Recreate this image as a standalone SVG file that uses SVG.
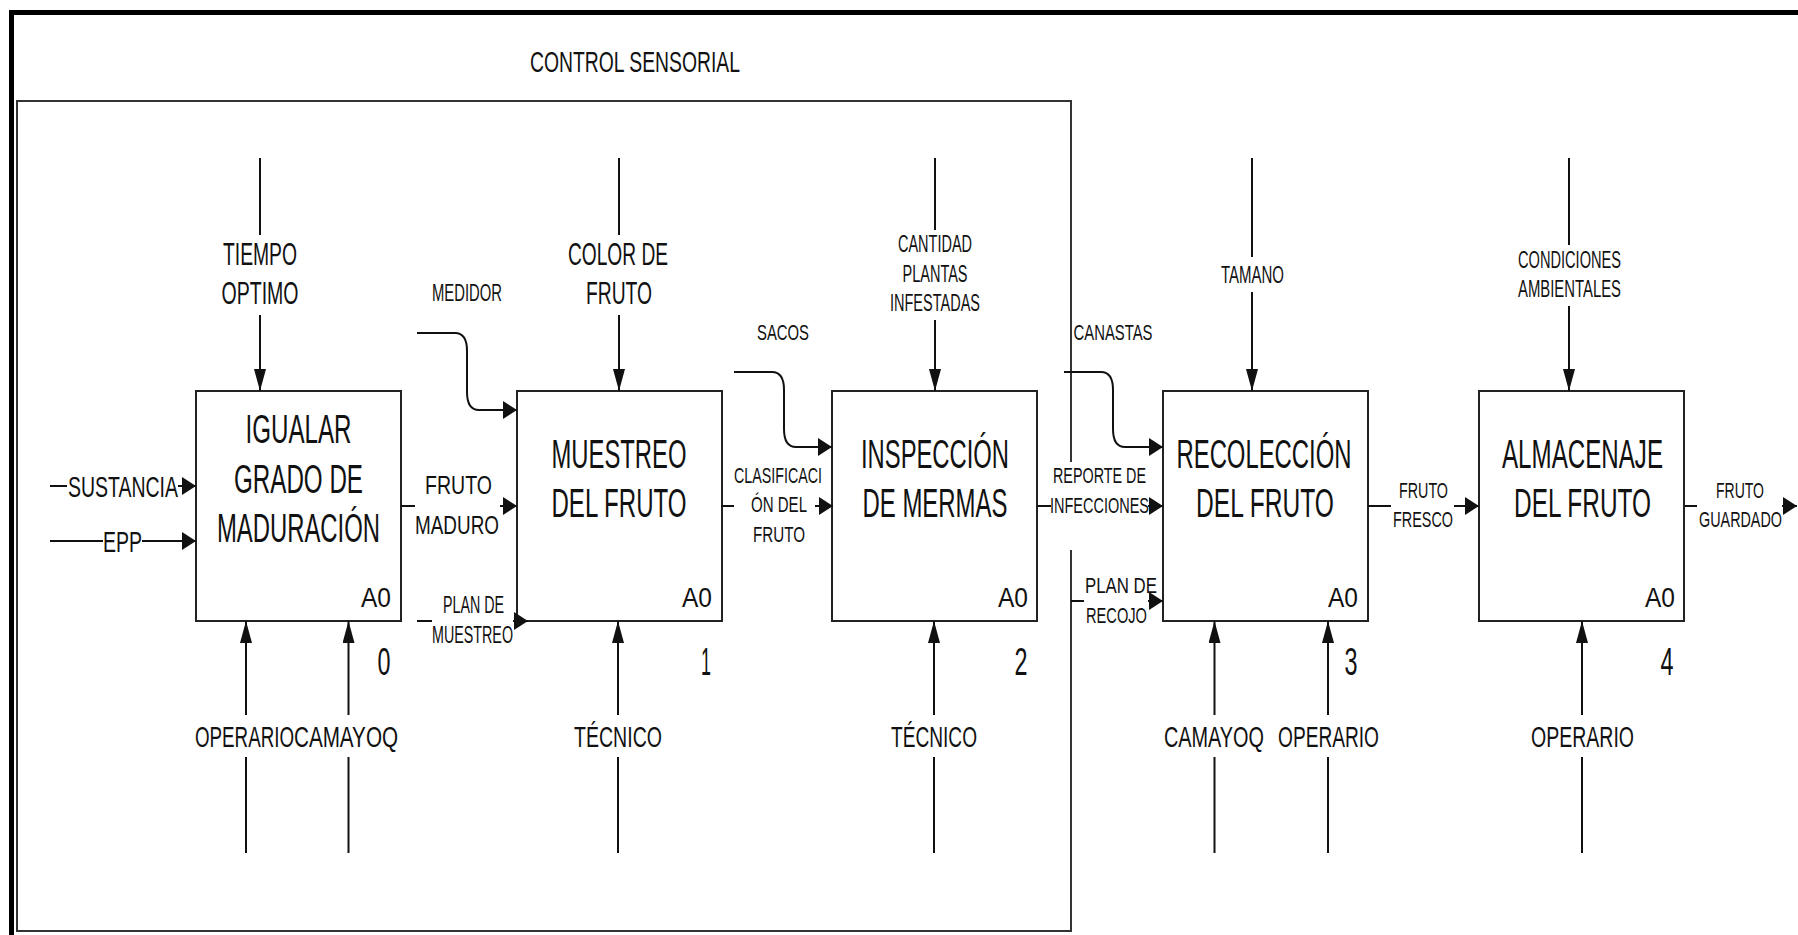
<svg xmlns="http://www.w3.org/2000/svg" width="1798" height="935" viewBox="0 0 1798 935">
<style>
text{font-family:"Liberation Sans",Arial,sans-serif;fill:#111;}
.box{fill:#fff;stroke:#222;stroke-width:2;}
.ln{stroke:#111;stroke-width:2;fill:none;}
.t{font-size:40px;text-anchor:middle;}
.a0{font-size:27px;text-anchor:end;}
.num{font-size:38px;text-anchor:middle;}
.l32{font-size:32px;text-anchor:middle;}
.l30{font-size:30px;text-anchor:middle;}
.l26{font-size:26px;text-anchor:middle;}
.l23{font-size:23px;text-anchor:middle;}
.l22{font-size:22px;text-anchor:middle;}
</style>
<defs>
<marker id="arrH" markerUnits="userSpaceOnUse" viewBox="0 0 14 18" markerWidth="14" markerHeight="18" refX="14" refY="9" orient="auto"><path d="M0,0 L14,9 L0,18 z" fill="#111"/></marker>
<marker id="arrV" markerUnits="userSpaceOnUse" viewBox="0 0 22 12" markerWidth="22" markerHeight="12" refX="22" refY="6" orient="auto"><path d="M0,0 L22,6 L0,12 z" fill="#111"/></marker>
</defs>
<rect x="0" y="0" width="1798" height="935" fill="#fff"/>
<g id="frame">
<line x1="11.5" y1="10" x2="11.5" y2="935" stroke="#000" stroke-width="5"/>
<line x1="9" y1="12.5" x2="1798" y2="12.5" stroke="#000" stroke-width="5"/>
<path d="M1071,462 V101 H17 V931 H1071 V550" fill="none" stroke="#333" stroke-width="2"/>
<text x="635" y="72" font-size="30" text-anchor="middle" textLength="210" lengthAdjust="spacingAndGlyphs">CONTROL SENSORIAL</text>
</g>
<g id="n0">
<rect class="box" x="196" y="391" width="205" height="230"/>
<text class="t" x="298.5" y="443" textLength="106" lengthAdjust="spacingAndGlyphs">IGUALAR</text>
<text class="t" x="298.5" y="493" textLength="129" lengthAdjust="spacingAndGlyphs">GRADO DE</text>
<text class="t" x="298.5" y="542" textLength="163" lengthAdjust="spacingAndGlyphs">MADURACIÓN</text>
<text class="a0" x="391" y="607" textLength="30" lengthAdjust="spacingAndGlyphs">A0</text>
<text class="num" x="384" y="675" textLength="13" lengthAdjust="spacingAndGlyphs">0</text>
</g>
<g id="n1">
<rect class="box" x="517" y="391" width="205" height="230"/>
<text class="t" x="619" y="468" textLength="135" lengthAdjust="spacingAndGlyphs">MUESTREO</text>
<text class="t" x="619" y="517" textLength="135" lengthAdjust="spacingAndGlyphs">DEL FRUTO</text>
<text class="a0" x="712" y="607" textLength="30" lengthAdjust="spacingAndGlyphs">A0</text>
<text class="num" x="706" y="675" textLength="10" lengthAdjust="spacingAndGlyphs">1</text>
</g>
<g id="n2">
<rect class="box" x="832" y="391" width="205" height="230"/>
<text class="t" x="935" y="468" textLength="148" lengthAdjust="spacingAndGlyphs">INSPECCIÓN</text>
<text class="t" x="935" y="517" textLength="145" lengthAdjust="spacingAndGlyphs">DE MERMAS</text>
<text class="a0" x="1028" y="607" textLength="30" lengthAdjust="spacingAndGlyphs">A0</text>
<text class="num" x="1021" y="675" textLength="13" lengthAdjust="spacingAndGlyphs">2</text>
</g>
<g id="n3">
<rect class="box" x="1163" y="391" width="205" height="230"/>
<text class="t" x="1264" y="468" textLength="175" lengthAdjust="spacingAndGlyphs">RECOLECCIÓN</text>
<text class="t" x="1265" y="517" textLength="138" lengthAdjust="spacingAndGlyphs">DEL FRUTO</text>
<text class="a0" x="1358" y="607" textLength="30" lengthAdjust="spacingAndGlyphs">A0</text>
<text class="num" x="1351" y="675" textLength="13" lengthAdjust="spacingAndGlyphs">3</text>
</g>
<g id="n4">
<rect class="box" x="1479" y="391" width="205" height="230"/>
<text class="t" x="1582.5" y="468" textLength="161" lengthAdjust="spacingAndGlyphs">ALMACENAJE</text>
<text class="t" x="1582.5" y="517" textLength="137" lengthAdjust="spacingAndGlyphs">DEL FRUTO</text>
<text class="a0" x="1675" y="607" textLength="30" lengthAdjust="spacingAndGlyphs">A0</text>
<text class="num" x="1667" y="675" textLength="13" lengthAdjust="spacingAndGlyphs">4</text>
</g>
<g id="connectors">
<!-- controls -->
<path class="ln" d="M260,158 V235"/><path class="ln" d="M260,315 V391" marker-end="url(#arrV)"/>
<path class="ln" d="M619,158 V235"/><path class="ln" d="M619,315 V391" marker-end="url(#arrV)"/>
<path class="ln" d="M935,158 V230"/><path class="ln" d="M935,320 V391" marker-end="url(#arrV)"/>
<path class="ln" d="M1252,158 V257"/><path class="ln" d="M1252,292 V391" marker-end="url(#arrV)"/>
<path class="ln" d="M1569,158 V245"/><path class="ln" d="M1569,306 V391" marker-end="url(#arrV)"/>
<!-- mechanisms -->
<path class="ln" d="M246,853 V757"/><path class="ln" d="M246,715 V621" marker-end="url(#arrV)"/>
<path class="ln" d="M348.5,853 V757"/><path class="ln" d="M348.5,715 V621" marker-end="url(#arrV)"/>
<path class="ln" d="M618,853 V757"/><path class="ln" d="M618,715 V621" marker-end="url(#arrV)"/>
<path class="ln" d="M934,853 V757"/><path class="ln" d="M934,715 V621" marker-end="url(#arrV)"/>
<path class="ln" d="M1214.5,853 V757"/><path class="ln" d="M1214.5,715 V621" marker-end="url(#arrV)"/>
<path class="ln" d="M1328,853 V757"/><path class="ln" d="M1328,715 V621" marker-end="url(#arrV)"/>
<path class="ln" d="M1582,853 V757"/><path class="ln" d="M1582,715 V621" marker-end="url(#arrV)"/>
<!-- inputs -->
<path class="ln" d="M50,486 H67"/><path class="ln" d="M178,486 H196" marker-end="url(#arrH)"/>
<path class="ln" d="M50,541 H103"/><path class="ln" d="M142,541 H196" marker-end="url(#arrH)"/>
<!-- flows -->
<path class="ln" d="M401,506 H415"/><path class="ln" d="M500,506 H517" marker-end="url(#arrH)"/>
<path class="ln" d="M417,621 H432"/><path class="ln" d="M513,621 H528" marker-end="url(#arrH)"/>
<path class="ln" d="M417,333 H455 Q467,333 467,351 V392 Q467,410 479,410 H517" marker-end="url(#arrH)"/>
<path class="ln" d="M734,372 H772 Q784,372 784,390 V429 Q784,447 796,447 H832" marker-end="url(#arrH)"/>
<path class="ln" d="M721,506 H734"/><path class="ln" d="M815,506 H833" marker-end="url(#arrH)"/>
<path class="ln" d="M1064,372 H1101 Q1113,372 1113,390 V429 Q1113,447 1125,447 H1163" marker-end="url(#arrH)"/>
<path class="ln" d="M1037,506 H1051"/><path class="ln" d="M1148,506 H1163" marker-end="url(#arrH)"/>
<path class="ln" d="M1071,601 H1084"/><path class="ln" d="M1148,601 H1163" marker-end="url(#arrH)"/>
<path class="ln" d="M1368,506 H1391"/><path class="ln" d="M1454,506 H1479" marker-end="url(#arrH)"/>
<path class="ln" d="M1685,506 H1697"/><path class="ln" d="M1782,506 H1797" marker-end="url(#arrH)"/>
</g>
<g id="labels">
<text class="l32" x="260" y="265" textLength="74" lengthAdjust="spacingAndGlyphs">TIEMPO</text>
<text class="l32" x="260" y="304" textLength="77" lengthAdjust="spacingAndGlyphs">OPTIMO</text>
<text class="l32" x="618" y="265" textLength="100" lengthAdjust="spacingAndGlyphs">COLOR DE</text>
<text class="l32" x="619" y="304" textLength="66" lengthAdjust="spacingAndGlyphs">FRUTO</text>
<text class="l23" x="935" y="252" textLength="74" lengthAdjust="spacingAndGlyphs">CANTIDAD</text>
<text class="l23" x="935" y="282" textLength="65" lengthAdjust="spacingAndGlyphs">PLANTAS</text>
<text class="l23" x="935" y="311" textLength="90" lengthAdjust="spacingAndGlyphs">INFESTADAS</text>
<text class="l23" x="1252.5" y="283" textLength="63" lengthAdjust="spacingAndGlyphs">TAMANO</text>
<text class="l23" x="1569.5" y="268" textLength="103" lengthAdjust="spacingAndGlyphs">CONDICIONES</text>
<text class="l23" x="1569.5" y="297" textLength="103" lengthAdjust="spacingAndGlyphs">AMBIENTALES</text>
<text class="l30" x="244.5" y="747" textLength="99" lengthAdjust="spacingAndGlyphs">OPERARIO</text>
<text class="l30" x="346" y="747" textLength="104" lengthAdjust="spacingAndGlyphs">CAMAYOQ</text>
<text class="l30" x="618" y="747" textLength="88" lengthAdjust="spacingAndGlyphs">TÉCNICO</text>
<text class="l30" x="934" y="747" textLength="86" lengthAdjust="spacingAndGlyphs">TÉCNICO</text>
<text class="l30" x="1214" y="747" textLength="100" lengthAdjust="spacingAndGlyphs">CAMAYOQ</text>
<text class="l30" x="1328.5" y="747" textLength="101" lengthAdjust="spacingAndGlyphs">OPERARIO</text>
<text class="l30" x="1582.5" y="747" textLength="103" lengthAdjust="spacingAndGlyphs">OPERARIO</text>
<text class="l30" x="123" y="497" textLength="110" lengthAdjust="spacingAndGlyphs">SUSTANCIA</text>
<text class="l30" x="122.5" y="552" textLength="39" lengthAdjust="spacingAndGlyphs">EPP</text>
<text class="l26" x="458.5" y="494" textLength="67" lengthAdjust="spacingAndGlyphs">FRUTO</text>
<text class="l26" x="457" y="534" textLength="84" lengthAdjust="spacingAndGlyphs">MADURO</text>
<text class="l23" x="473.5" y="613" textLength="61" lengthAdjust="spacingAndGlyphs">PLAN DE</text>
<text class="l23" x="472.5" y="643" textLength="81" lengthAdjust="spacingAndGlyphs">MUESTREO</text>
<text class="l23" x="467" y="301" textLength="70" lengthAdjust="spacingAndGlyphs">MEDIDOR</text>
<text class="l22" x="783" y="340" textLength="52" lengthAdjust="spacingAndGlyphs">SACOS</text>
<text class="l22" x="778" y="483" textLength="88" lengthAdjust="spacingAndGlyphs">CLASIFICACI</text>
<text class="l22" x="779" y="512" textLength="56" lengthAdjust="spacingAndGlyphs">ÓN DEL</text>
<text class="l22" x="779" y="542" textLength="52" lengthAdjust="spacingAndGlyphs">FRUTO</text>
<text class="l22" x="1113" y="340" textLength="79" lengthAdjust="spacingAndGlyphs">CANASTAS</text>
<text class="l22" x="1099.5" y="483" textLength="93" lengthAdjust="spacingAndGlyphs">REPORTE DE</text>
<text class="l22" x="1099.5" y="513" textLength="99" lengthAdjust="spacingAndGlyphs">INFECCIONES</text>
<text class="l22" x="1121" y="593" textLength="72" lengthAdjust="spacingAndGlyphs">PLAN DE</text>
<text class="l22" x="1116.5" y="623" textLength="61" lengthAdjust="spacingAndGlyphs">RECOJO</text>
<text class="l22" x="1423.5" y="498" textLength="49" lengthAdjust="spacingAndGlyphs">FRUTO</text>
<text class="l22" x="1423" y="527" textLength="60" lengthAdjust="spacingAndGlyphs">FRESCO</text>
<text class="l22" x="1740" y="498" textLength="48" lengthAdjust="spacingAndGlyphs">FRUTO</text>
<text class="l22" x="1740.5" y="527" textLength="83" lengthAdjust="spacingAndGlyphs">GUARDADO</text>
</g>
</svg>
